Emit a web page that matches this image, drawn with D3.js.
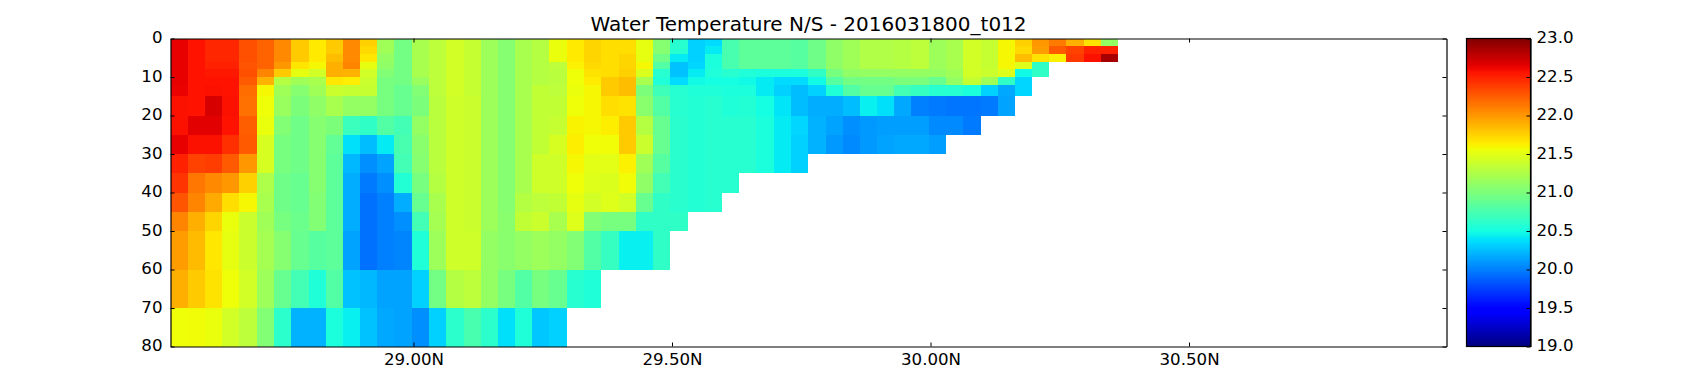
<!DOCTYPE html>
<html>
<head>
<meta charset="utf-8">
<script src="https://cdn.jsdelivr.net/npm/d3@7"></script>
<style>
    html, body { margin: 0; padding: 0; background: #fff; }
    text { font-family: "DejaVu Sans", sans-serif; fill: #000; }
</style>
</head>
<body>
<div id="chart"></div>
<script>
const titleText = "Water Temperature N/S - 2016031800_t012";

// cell edges of the section
const depthEdges = [0, 2, 4, 6, 8, 10, 12, 15, 20, 25, 30, 35, 40, 45, 50, 60, 70, 80];
const latEdges = [28.53, 28.563, 28.597, 28.63, 28.663, 28.697, 28.73, 28.763, 28.797, 28.83, 28.863, 28.897,
    28.93, 28.963, 28.997, 29.03, 29.063, 29.097, 29.13, 29.163, 29.197, 29.23, 29.263, 29.297,
    29.33, 29.363, 29.397, 29.43, 29.463, 29.497, 29.53, 29.563, 29.597, 29.63, 29.663, 29.697,
    29.73, 29.763, 29.797, 29.83, 29.863, 29.897, 29.93, 29.963, 29.997, 30.03, 30.063, 30.097,
    30.13, 30.163, 30.197, 30.23, 30.263, 30.297, 30.33, 30.363];

// temperature per latitude column, top cell first; short columns stop at the sea floor
const tempColumns = [
    [22.64,22.64,22.64,22.64,22.64,22.64,22.63,22.57,22.57,22.64,22.5,22.42,22.28,22.08,21.98,21.9,21.56],
    [22.56,22.56,22.56,22.56,22.56,22.56,22.56,22.56,22.66,22.57,22.36,22.14,22.08,21.9,21.85,21.78,21.57],
    [22.48,22.48,22.48,22.5,22.54,22.56,22.57,22.7,22.66,22.57,22.38,22.06,21.92,21.74,21.66,21.68,21.54],
    [22.48,22.48,22.48,22.5,22.54,22.56,22.56,22.57,22.56,22.44,22.26,22.0,21.7,21.54,21.52,21.56,21.42],
    [22.3,22.3,22.3,22.28,22.3,22.26,22.18,22.16,22.24,22.26,22.0,21.76,21.59,21.38,21.38,21.42,21.32],
    [22.22,22.22,22.22,22.22,22.08,21.88,21.59,21.56,21.54,21.44,21.44,21.24,21.22,21.18,21.2,21.16,21.03],
    [22.06,22.06,22.06,22.0,21.78,21.28,21.18,21.14,21.03,20.98,20.98,20.94,20.94,20.98,21.05,20.9,20.61],
    [21.78,21.78,21.78,21.67,21.52,21.18,21.05,21.0,20.94,20.94,20.94,20.9,20.9,20.92,20.9,20.72,20.2],
    [21.65,21.65,21.65,21.59,21.42,21.22,21.18,21.1,21.05,21.05,21.05,21.05,21.03,21.03,20.82,20.55,20.2],
    [21.78,21.78,21.84,21.9,21.9,21.66,21.38,21.22,21.0,20.87,20.85,20.85,20.85,20.85,20.85,20.8,20.53],
    [22.06,22.06,22.06,22.08,21.88,21.63,21.36,21.12,20.68,20.38,20.22,20.18,20.18,20.18,20.14,20.26,20.44],
    [21.76,21.72,21.66,21.52,21.42,21.38,21.36,21.12,20.63,20.24,20.06,19.98,19.94,19.94,19.94,20.22,20.26],
    [21.18,21.18,21.12,21.1,21.03,20.98,20.98,20.98,20.8,20.42,20.14,20.06,20.0,20.0,20.0,20.14,20.16],
    [20.96,20.96,20.96,20.96,20.96,20.96,20.9,20.9,20.72,20.75,20.72,20.57,20.18,20.06,20.02,20.14,20.14],
    [21.22,21.22,21.22,21.22,21.22,21.14,21.03,21.0,21.12,21.07,21.05,20.98,20.9,20.72,20.55,20.32,20.06],
    [21.32,21.32,21.32,21.32,21.32,21.32,21.32,21.3,21.3,21.3,21.3,21.28,21.22,21.2,21.16,20.96,20.32],
    [21.42,21.42,21.42,21.42,21.42,21.42,21.42,21.4,21.4,21.4,21.4,21.4,21.4,21.4,21.4,21.28,20.61],
    [21.36,21.36,21.36,21.36,21.36,21.36,21.36,21.38,21.38,21.38,21.38,21.38,21.38,21.38,21.4,21.32,20.75],
    [21.16,21.16,21.16,21.16,21.16,21.16,21.16,21.16,21.16,21.16,21.16,21.16,21.16,21.16,21.12,21.12,20.61],
    [21.05,21.05,21.05,21.05,21.05,21.05,21.05,21.05,21.05,21.05,21.05,21.05,21.05,21.07,21.07,20.98,20.38],
    [21.22,21.22,21.22,21.22,21.22,21.22,21.22,21.22,21.22,21.22,21.22,21.22,21.28,21.34,21.12,20.8,20.55],
    [21.28,21.28,21.28,21.28,21.28,21.28,21.34,21.34,21.34,21.34,21.4,21.4,21.32,21.38,21.16,20.98,20.28],
    [21.54,21.54,21.54,21.32,21.3,21.3,21.32,21.34,21.36,21.44,21.4,21.4,21.34,21.22,21.12,20.9,20.32],
    [21.65,21.65,21.65,21.62,21.56,21.56,21.54,21.56,21.61,21.63,21.59,21.56,21.52,21.48,21.03,20.59],
    [21.74,21.74,21.74,21.72,21.68,21.64,21.59,21.59,21.59,21.56,21.5,21.48,21.42,21.03,20.8,20.55],
    [21.7,21.7,21.7,21.7,21.7,21.78,21.78,21.7,21.63,21.57,21.5,21.46,21.48,20.98,20.66],
    [21.7,21.7,21.74,21.74,21.76,21.84,21.84,21.68,21.78,21.78,21.62,21.57,21.42,20.98,20.44],
    [21.52,21.52,21.52,21.59,21.46,21.22,21.0,21.07,21.28,21.38,21.18,21.1,20.9,20.63,20.44],
    [21.05,21.05,20.94,20.8,20.59,20.55,20.7,20.8,20.9,20.9,20.82,20.72,20.63,20.63,20.63],
    [20.59,20.59,20.42,20.26,20.26,20.36,20.58,20.59,20.6,20.6,20.6,20.6,20.6,20.63],
    [20.32,20.32,20.32,20.34,20.42,20.48,20.55,20.57,20.57,20.57,20.57,20.57,20.57],
    [20.36,20.42,20.53,20.53,20.55,20.5,20.55,20.59,20.59,20.59,20.59,20.59,20.59],
    [20.75,20.75,20.75,20.75,20.59,20.5,20.53,20.55,20.59,20.59,20.59,20.59],
    [20.85,20.85,20.85,20.85,20.55,20.48,20.53,20.57,20.59,20.59,20.59],
    [20.85,20.85,20.85,20.85,20.53,20.42,20.42,20.5,20.53,20.53,20.53],
    [20.85,20.85,20.85,20.85,20.53,20.36,20.32,20.4,20.42,20.42,20.42],
    [20.82,20.82,20.82,20.82,20.53,20.36,20.24,20.24,20.34,20.32,20.32],
    [20.94,20.94,20.94,20.94,20.63,20.48,20.32,20.18,20.2,20.2],
    [21.1,21.1,21.1,21.1,20.98,20.82,20.55,20.18,20.14,20.1],
    [21.18,21.18,21.18,21.18,21.1,20.96,20.8,20.24,20.06,20.04],
    [21.26,21.26,21.26,21.26,21.12,20.96,20.9,20.44,20.1,20.1],
    [21.26,21.26,21.26,21.26,21.12,20.96,20.9,20.38,20.12,20.14],
    [21.28,21.28,21.28,21.28,21.12,21.0,20.72,20.16,20.12,20.16],
    [21.32,21.32,21.32,21.32,21.12,21.0,20.66,20.0,20.12,20.16],
    [21.16,21.16,21.16,21.16,21.12,20.9,20.59,19.98,20.04,20.12],
    [21.22,21.22,21.22,21.22,21.18,21.12,20.58,19.96,20.04],
    [21.42,21.42,21.42,21.42,21.42,21.36,20.53,19.96,19.98],
    [21.36,21.36,21.36,21.36,21.38,21.18,20.32,19.98],
    [21.59,21.59,21.59,21.59,21.48,20.63,20.16,20.14],
    [21.76,21.72,21.84,21.48,20.48,20.34,20.34],
    [22.0,21.98,21.68,20.63,20.63],
    [22.12,22.26,21.62],
    [21.9,22.36,22.4],
    [21.68,22.5,22.57],
    [21.12,22.5,22.86]
];

const latTicks = [29.0, 29.5, 30.0, 30.5];
const depthTicks = [0, 10, 20, 30, 40, 50, 60, 70, 80];
const tempTicks = [19.0, 19.5, 20.0, 20.5, 21.0, 21.5, 22.0, 22.5, 23.0];

const width = 1700;
const height = 384;
const plot = { left: 170.5, right: 1446.5, top: 38.5, bottom: 346.5 };
const bar = { left: 1466.5, right: 1530.5 };

const x = d3.scaleLinear().domain([28.53, 30.998]).range([plot.left, plot.right]);
const y = d3.scaleLinear().domain([80, 0]).range([plot.bottom, plot.top]);
const barY = d3.scaleLinear().domain([19, 23]).range([plot.bottom, plot.top]);

// jet colour map
const jetR = d3.scaleLinear().domain([0, 0.35, 0.66, 0.89, 1]).range([0, 0, 255, 255, 128]);
const jetG = d3.scaleLinear().domain([0, 0.125, 0.375, 0.64, 0.91, 1]).range([0, 0, 255, 255, 0, 0]);
const jetB = d3.scaleLinear().domain([0, 0.11, 0.34, 0.65, 1]).range([128, 255, 255, 0, 0]);
const tempNorm = d3.scaleLinear().domain([19, 23]).range([0, 1]).clamp(true);
const color = v => {
    const t = tempNorm(v);
    return d3.rgb(jetR(t), jetG(t), jetB(t)).formatHex();
};

const svg = d3.select("#chart").append("svg")
    .attr("width", width)
    .attr("height", height)
    .style("display", "block");

// flatten the columns to one record per cell
const cells = tempColumns.flatMap((col, i) => col.map((temp, j) => ({ i, j, temp })));

svg.append("g").attr("class", "cells")
    .selectAll("rect")
    .data(cells)
    .enter()
    .append("rect")
    .attr("x", d => x(latEdges[d.i]))
    .attr("y", d => y(depthEdges[d.j]))
    .attr("width", d => x(latEdges[d.i + 1]) - x(latEdges[d.i]))
    .attr("height", d => y(depthEdges[d.j + 1]) - y(depthEdges[d.j]))
    .attr("fill", d => color(d.temp))
    .attr("shape-rendering", "crispEdges");

// colorbar, one band per colormap level
const levels = d3.range(256);
svg.append("g").attr("class", "colorbar")
    .selectAll("rect")
    .data(levels)
    .enter()
    .append("rect")
    .attr("x", bar.left)
    .attr("width", bar.right - bar.left)
    .attr("y", d => barY(19 + (d + 1) / 64))
    .attr("height", d => barY(19 + d / 64) - barY(19 + (d + 1) / 64))
    .attr("fill", d => color(19 + (d + 0.5) / 64))
    .attr("shape-rendering", "crispEdges");

const styleAxis = g => {
    g.selectAll("text").style("font-size", "16.67px");
    g.selectAll("line").attr("stroke", "#000").attr("stroke-width", 1);
    g.select(".domain").attr("stroke", "#000").attr("stroke-width", 1.2);
};

const latFormat = d => d.toFixed(2) + "N";

svg.append("g")
    .attr("transform", `translate(0,${plot.bottom})`)
    .call(d3.axisBottom(x).tickValues(latTicks).tickFormat(latFormat).tickSizeInner(-4).tickSizeOuter(0).tickPadding(7))
    .call(styleAxis);
svg.append("g")
    .attr("transform", `translate(0,${plot.top})`)
    .call(d3.axisTop(x).tickValues(latTicks).tickFormat("").tickSizeInner(-4).tickSizeOuter(0))
    .call(styleAxis);
svg.append("g")
    .attr("transform", `translate(${plot.left},0)`)
    .call(d3.axisLeft(y).tickValues(depthTicks).tickSizeInner(-4).tickSizeOuter(0).tickPadding(8))
    .call(styleAxis)
    .call(g => g.selectAll("text").attr("dy", "0.26em"));
svg.append("g")
    .attr("transform", `translate(${plot.right},0)`)
    .call(d3.axisRight(y).tickValues(depthTicks).tickFormat("").tickSizeInner(-4).tickSizeOuter(0))
    .call(styleAxis);

// colorbar frame and labels
svg.append("rect")
    .attr("x", bar.left)
    .attr("y", plot.top)
    .attr("width", bar.right - bar.left)
    .attr("height", plot.bottom - plot.top)
    .attr("fill", "none")
    .attr("stroke", "#000")
    .attr("stroke-width", 1.2);
svg.append("g")
    .attr("transform", `translate(${bar.right},0)`)
    .call(d3.axisRight(barY).tickValues(tempTicks).tickFormat(d3.format(".1f")).tickSizeInner(-4).tickSizeOuter(0).tickPadding(6))
    .call(styleAxis)
    .call(g => g.selectAll("text").attr("dy", "0.26em"));

svg.append("text")
    .attr("x", (plot.left + plot.right) / 2)
    .attr("y", 31)
    .attr("text-anchor", "middle")
    .style("font-size", "20px")
    .text(titleText);
</script>
</body>
</html>
